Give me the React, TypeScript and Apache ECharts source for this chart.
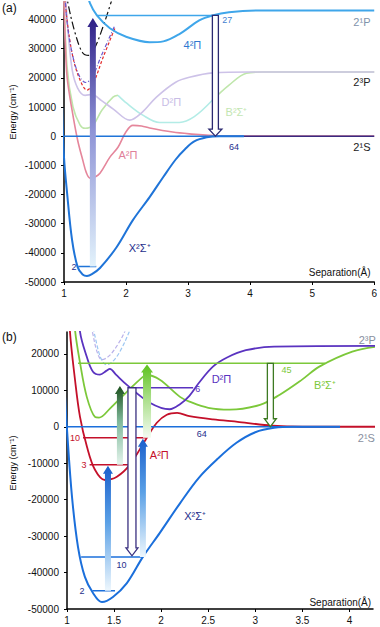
import React, { useEffect, useRef } from "react";
import * as echarts from "echarts";

type P = [number, number];
const FONT = '"Liberation Sans", Arial, sans-serif';

// ---------- Panel (a) ----------
const aX: P[] = [[0.97, 10000], [1.0, -7200], [1.05, -19500], [1.13, -35600], [1.22, -44900], [1.3, -47400], [1.37, -47900], [1.45, -47300], [1.58, -45200], [1.85, -38000], [2.11, -28800], [2.38, -20900], [2.6, -14000], [2.8, -8000], [2.95, -4500], [3.1, -1800], [3.3, -400], [3.5, 0], [3.9, 0]];
const aA: P[] = [[0.99, 52000], [1.02, 33000], [1.05, 20200], [1.13, 8900], [1.22, -1400], [1.3, -8000], [1.36, -12500], [1.42, -14400], [1.5, -14000], [1.58, -12700], [1.74, -7200], [1.87, -3800], [2.0, 1500], [2.11, 3700], [2.25, 3500], [2.38, 2800], [2.75, 1400], [3.02, 800], [3.5, 100], [4, 0], [6, 0]];
const aB1: P[] = [[1.0, 50000], [1.05, 23600], [1.145, 10000], [1.26, 3800], [1.34, 2700], [1.47, 3800], [1.61, 8900], [1.79, 13400], [1.87, 14000]];
const aB2: P[] = [[1.87, 14000], [2.01, 11300], [2.27, 7200], [2.54, 4700], [2.86, 4700], [3.1, 6700], [3.39, 12300]];
const aB3: P[] = [[3.39, 12300], [3.66, 17500], [3.94, 21600], [4.2, 22000], [6, 22000]];
const aD: P[] = [[1.0, 60000], [1.05, 40000], [1.13, 23000], [1.22, 16500], [1.34, 14000], [1.45, 14300], [1.6, 12300], [1.8, 9200], [2.06, 5500], [2.25, 8000], [2.49, 13400], [2.8, 18500], [3.02, 20200], [3.4, 21700], [4, 22000], [6, 22000]];
const aRedDash: P[] = [[1.0, 52000], [1.05, 39700], [1.145, 27000], [1.26, 19200], [1.37, 15800], [1.47, 18100], [1.63, 27000], [1.82, 37000]];
const aPurpleDash: P[] = [[1.0, 55000], [1.04, 41000], [1.13, 28500], [1.25, 20500], [1.35, 18400], [1.45, 20000], [1.6, 27500], [1.82, 38000]];
const aBlackDash: P[] = [[1.04, 50000], [1.06, 46000], [1.18, 35300], [1.3, 28600], [1.4, 27700], [1.5, 30500], [1.62, 37000], [1.76, 46000], [1.8, 49000]];
const a4Pi: P[] = [[1.38, 49000], [1.42, 45500], [1.53, 41400], [1.74, 37000], [2.01, 34000], [2.38, 32200], [2.6, 32500], [2.86, 35000], [3.18, 39700], [3.39, 41400], [3.66, 42500], [4.2, 43100], [6, 43100]];
const aLevel27: P[] = [[1.53, 41400], [3.39, 41400]];
const aLevel64: P[] = [[1.0, 0], [3.9, 0]];
const aAsym: P[] = [[3.9, 0], [6, 0]];
const aLevel2: P[] = [[1.23, -44700], [1.52, -44700]];

const aArrows = [
  { r: 1.465, from: -44700, to: 40500, kind: "violet" },
  { r: 3.44, from: 41400, to: 0, kind: "hollowNavyA" },
];

const aLabels = [
  { t: "4²Π", r: 3.07, e: 31200, k: "a4pi", al: "center" },
  { t: "27", r: 3.55, e: 39700, k: "aNum", al: "left" },
  { t: "2¹P", r: 5.94, e: 39000, k: "a21p", al: "right" },
  { t: "2³P", r: 5.94, e: 18500, k: "dark", al: "right" },
  { t: "B²Σ⁺", r: 3.78, e: 8200, k: "aB", al: "center" },
  { t: "D²Π", r: 2.73, e: 11600, k: "aD", al: "center" },
  { t: "A²Π", r: 2.03, e: -6500, k: "aA", al: "center" },
  { t: "64", r: 3.74, e: -3800, k: "navyNum", al: "center" },
  { t: "2¹S", r: 5.94, e: -3800, k: "dark", al: "right" },
  { t: "X²Σ⁺", r: 2.22, e: -38400, k: "navy", al: "center" },
  { t: "2", r: 1.16, e: -44900, k: "navyNum", al: "center" },
  { t: "Separation(Å)", r: 5.94, e: -46900, k: "axis", al: "right" },
];

// ---------- Panel (b) ----------
const bX: P[] = [[0.98, 8000], [1.0, -800], [1.053, -19200], [1.117, -33000], [1.19, -41200], [1.276, -45600], [1.371, -48100], [1.488, -46700], [1.636, -42900], [1.806, -35700], [1.986, -29100], [2.2, -21000], [2.4, -14000], [2.6, -8800], [2.8, -4400], [3.0, -1500], [3.2, -300], [3.4, 0], [3.9, 0]];
const bA: P[] = [[1.0, 45000], [1.03, 26600], [1.085, 12900], [1.138, 2700], [1.212, -5500], [1.297, -11800], [1.403, -14600], [1.53, -13700], [1.668, -10400], [1.848, -3000], [1.954, 1100], [2.06, 3300], [2.17, 3800], [2.3, 2900], [2.55, 2000], [2.83, 1300], [3.18, 300], [3.5, 0], [4.3, 0]];
const bB: P[] = [[1.05, 40000], [1.085, 26600], [1.138, 17600], [1.21, 8200], [1.297, 2700], [1.34, 2500], [1.456, 5000], [1.636, 9600], [1.806, 13700], [1.85, 14200], [1.986, 12900], [2.2, 8200], [2.3, 6900], [2.5, 5200], [2.73, 4700], [3.05, 6000], [3.26, 8800], [3.5, 13000], [3.68, 16500], [4.03, 20600], [4.3, 22000]];
const bD: P[] = [[1.1, 40000], [1.138, 26100], [1.21, 19200], [1.276, 15100], [1.35, 14300], [1.42, 15400], [1.456, 15900], [1.52, 14300], [1.636, 11500], [1.88, 6600], [2.09, 4800], [2.2, 6200], [2.3, 8500], [2.4, 12000], [2.55, 16500], [2.7, 19000], [2.9, 21000], [3.2, 22000], [4.3, 22200]];
const bLavDash: P[] = [[1.2, 34000], [1.27, 26000], [1.32, 20500], [1.37, 18400], [1.45, 19500], [1.55, 23000], [1.62, 26500], [1.7, 32000]];
const bBlueDash: P[] = [[1.24, 32000], [1.3, 24500], [1.36, 18800], [1.42, 17000], [1.5, 18300], [1.58, 21500], [1.66, 26000], [1.72, 30000]];
const bLevel45: P[] = [[1.117, 17400], [3.74, 17400]];
const bLevel6: P[] = [[1.65, 10700], [2.34, 10700]];
const bLevel64: P[] = [[1.0, 0], [3.9, 0]];
const bRed10: P[] = [[1.17, -3000], [1.85, -3000]];
const bRed3: P[] = [[1.24, -10400], [1.67, -10400]];
const bBlue10: P[] = [[1.15, -35700], [1.81, -35700]];
const bBlue2: P[] = [[1.27, -45000], [1.51, -45000]];

const bArrows = [
  { r: 1.435, from: -45000, to: -10700, kind: "blue" },
  { r: 1.806, from: -35700, to: -3300, kind: "blue" },
  { r: 1.562, from: -10400, to: 11200, kind: "darkGreen" },
  { r: 1.85, from: -3000, to: 17100, kind: "lightGreen" },
  { r: 1.69, from: 10700, to: -35400, kind: "hollowNavyB" },
  { r: 3.16, from: 17400, to: 0, kind: "hollowGreen" },
];

const bLabels = [
  { t: "D²Π", r: 2.64, e: 13200, k: "bD", al: "center" },
  { t: "B²Σ⁺", r: 3.74, e: 11500, k: "bB", al: "center" },
  { t: "2³P", r: 4.28, e: 23900, k: "gray", al: "right" },
  { t: "2¹S", r: 4.27, e: -3000, k: "gray", al: "right" },
  { t: "64", r: 2.43, e: -1900, k: "navyNum", al: "center" },
  { t: "45", r: 3.33, e: 15700, k: "bBNum", al: "center" },
  { t: "6", r: 2.39, e: 10400, k: "bDNum", al: "center" },
  { t: "A²Π", r: 1.98, e: -7700, k: "bA", al: "center" },
  { t: "X²Σ⁺", r: 2.36, e: -24500, k: "navy", al: "center" },
  { t: "10", r: 1.58, e: -37900, k: "navyNum", al: "center" },
  { t: "2", r: 1.16, e: -45100, k: "navyNum", al: "center" },
  { t: "10", r: 1.085, e: -3000, k: "bANum", al: "center" },
  { t: "3", r: 1.18, e: -10400, k: "bANum", al: "center" },
  { t: "Separation(Å)", r: 4.23, e: -48100, k: "axis", al: "right" },
];

const LABEL_STYLE: Record<string, { c: string; s: number }> = {
  a4pi: { c: "#2f78d0", s: 11 },
  aNum: { c: "#3f7fd0", s: 9 },
  a21p: { c: "#7f93ab", s: 11 },
  dark: { c: "#222", s: 11 },
  aB: { c: "#c3e6b2", s: 11 },
  aD: { c: "#c8bde6", s: 11 },
  aA: { c: "#e0809a", s: 11 },
  navyNum: { c: "#1e2e8c", s: 9 },
  navy: { c: "#1e2e8c", s: 11 },
  axis: { c: "#111", s: 10 },
  bD: { c: "#5a33c0", s: 11 },
  bB: { c: "#7cc83a", s: 11 },
  gray: { c: "#8890a0", s: 11 },
  bBNum: { c: "#7cc83a", s: 9 },
  bDNum: { c: "#5a33c0", s: 9 },
  bA: { c: "#c4102a", s: 11 },
  bANum: { c: "#c4102a", s: 9 },
};

const ARROW_STYLE: Record<string, any> = {
  violet: { body: 6, headW: 11, head: 9, tip: "#2e1f86", tail: "#e2f2fb", mid: "#8e93d6" },
  blue: { body: 6, headW: 10, head: 8, tip: "#1a5fcc", tail: "#eef7fd", mid: "#5aa0e6" },
  darkGreen: { body: 6, headW: 10, head: 8, tip: "#1b4f1c", tail: "#e4f4ec", mid: "#7fb89a" },
  lightGreen: { body: 8, headW: 12, head: 8, tip: "#5cc21c", tail: "#f4fbf2", mid: "#a8de86" },
  hollowNavyA: { hollow: true, body: 6, headW: 13, head: 7, stroke: "#2a2870" },
  hollowNavyB: { hollow: true, body: 8, headW: 12, head: 8, stroke: "#3a3080" },
  hollowGreen: { hollow: true, body: 6, headW: 12, head: 8, stroke: "#3d7a22" },
};

function line(data: P[], grid: number, color: string, width: number, z = 2, type: any = "solid", smooth: number | boolean = 0.35) {
  return {
    type: "line",
    xAxisIndex: grid,
    yAxisIndex: grid,
    data,
    smooth,
    symbol: "none",
    showSymbol: false,
    clip: true,
    z,
    silent: true,
    lineStyle: { color, width, type },
  };
}

function arrowSeries(list: any[], grid: number) {
  return {
    type: "custom",
    xAxisIndex: grid,
    yAxisIndex: grid,
    z: 10,
    silent: true,
    data: list.map((a) => [a.r, a.from, a.to]),
    renderItem: (params: any, api: any) => {
      const a = list[params.dataIndex];
      const st = ARROW_STYLE[a.kind];
      const p0 = api.coord([a.r, a.from]);
      const p1 = api.coord([a.r, a.to]);
      const x = p0[0];
      const dir = p1[1] < p0[1] ? -1 : 1;
      const tipY = p1[1];
      const baseY = tipY - dir * st.head;
      const bw = st.body / 2;
      const hw = st.headW / 2;
      const pts = [
        [x - bw, p0[1]],
        [x - bw, baseY],
        [x - hw, baseY],
        [x, tipY],
        [x + hw, baseY],
        [x + bw, baseY],
        [x + bw, p0[1]],
      ];
      const style = st.hollow
        ? { fill: "#ffffff", stroke: st.stroke, lineWidth: 1.3 }
        : {
            fill: new echarts.graphic.LinearGradient(0, 0, 0, 1, [
              { offset: 0, color: st.tip },
              { offset: 0.45, color: st.mid },
              { offset: 1, color: st.tail },
            ]),
            stroke: "none",
          };
      return { type: "polygon", shape: { points: pts }, style };
    },
  };
}

function labelSeries(list: any[], grid: number) {
  return {
    type: "custom",
    xAxisIndex: grid,
    yAxisIndex: grid,
    z: 12,
    silent: true,
    data: list.map((l) => [l.r, l.e]),
    renderItem: (params: any, api: any) => {
      const l = list[params.dataIndex];
      const st = LABEL_STYLE[l.k];
      const p = api.coord([l.r, l.e]);
      return {
        type: "text",
        x: p[0],
        y: p[1],
        style: {
          text: l.t,
          fill: st.c,
          font: `${st.s}px ${FONT}`,
          align: l.al,
          verticalAlign: "middle",
        },
      };
    },
  };
}

function xAxisCfg(grid: number, max: number, interval: number) {
  return {
    type: "value",
    gridIndex: grid,
    min: 1,
    max,
    interval,
    axisLine: { show: true, onZero: false, lineStyle: { color: "#000", width: 1.5 } },
    axisTick: { show: true, length: 3, lineStyle: { color: "#000" } },
    axisLabel: { color: "#111", fontSize: 10, margin: 6, fontFamily: FONT, showMaxLabel: max === 6, formatter: (v: number) => String(v) },
    splitLine: { show: false },
  };
}

function yAxisCfg(grid: number, max: number) {
  return {
    type: "value",
    gridIndex: grid,
    min: -50000,
    max,
    interval: 10000,
    axisLine: { show: true, onZero: false, lineStyle: { color: "#000", width: 1.5 } },
    axisTick: { show: true, length: 3, lineStyle: { color: "#000" } },
    axisLabel: { color: "#111", fontSize: 10, margin: 8, fontFamily: FONT, showMaxLabel: false, formatter: (v: number) => String(v) },
    splitLine: { show: false },
  };
}

export default function App() {
  const ref = useRef<HTMLDivElement>(null);
  useEffect(() => {
    document.body.style.margin = "0";
    const chart = echarts.init(ref.current!, undefined, { renderer: "svg" });
    const option: any = {
      animation: false,
      backgroundColor: "#ffffff",
      grid: [
        { left: 64, top: 2, width: 312, height: 280 },
        { left: 67, top: 332, width: 306, height: 277 },
      ],
      xAxis: [xAxisCfg(0, 6, 1), xAxisCfg(1, 4.25, 0.5)],
      yAxis: [yAxisCfg(0, 46000), yAxisCfg(1, 26000)],
      graphic: [
        { type: "text", x: 2, y: 8, style: { text: "(a)", fill: "#111", font: `12px ${FONT}`, verticalAlign: "middle" } },
        { type: "text", x: 2, y: 337, style: { text: "(b)", fill: "#111", font: `12px ${FONT}`, verticalAlign: "middle" } },
        { type: "text", x: 13, y: 112, rotation: Math.PI / 2, style: { text: "Energy (cm⁻¹)", fill: "#111", font: `9px ${FONT}`, align: "center", verticalAlign: "middle" } },
        { type: "text", x: 13, y: 463, rotation: Math.PI / 2, style: { text: "Energy (cm⁻¹)", fill: "#111", font: `9px ${FONT}`, align: "center", verticalAlign: "middle" } },
      ],
      series: [
        // panel a
        line(aB1, 0, "#bfe6ab", 1.6, 2),
        line(aB2, 0, "#b3ece6", 1.6, 2),
        line(aB3, 0, "#bfe6ab", 1.6, 2),
        line(aD, 0, "#cdc2e8", 1.6, 2),
        line(aA, 0, "#e5869b", 1.6, 3),
        line(aRedDash, 0, "#e32b2b", 1.2, 4, [3, 2]),
        line(aPurpleDash, 0, "#6b5bd0", 1.2, 4, [4, 2, 1, 2]),
        line(aBlackDash, 0, "#111111", 1.2, 4, [8, 3, 2, 3]),
        line(a4Pi, 0, "#3fa6ea", 2, 4),
        line(aAsym, 0, "#3a2a80", 1.5, 3, "solid", false),
        line(aLevel64, 0, "#1f74d8", 1.5, 5, "solid", false),
        line(aLevel27, 0, "#3fa6ea", 1.5, 5, "solid", false),
        line(aLevel2, 0, "#1f74d8", 1.5, 5, "solid", false),
        line(aX, 0, "#1f74d8", 2, 5),
        arrowSeries(aArrows, 0),
        labelSeries(aLabels, 0),
        // panel b
        line(bLavDash, 1, "#b9b1ea", 1.2, 2, [4, 2]),
        line(bBlueDash, 1, "#9cc6f2", 1.2, 2, [4, 2]),
        line(bB, 1, "#7cc83a", 1.8, 3),
        line(bD, 1, "#5a33c0", 1.8, 3),
        line(bA, 1, "#c4102a", 1.8, 3),
        line(bLevel45, 1, "#7cc83a", 1.5, 4, "solid", false),
        line(bLevel6, 1, "#5a33c0", 1.5, 4, "solid", false),
        line(bLevel64, 1, "#1b6fdb", 1.5, 5, "solid", false),
        line(bRed10, 1, "#c4102a", 1.5, 4, "solid", false),
        line(bRed3, 1, "#c4102a", 1.5, 4, "solid", false),
        line(bBlue10, 1, "#1b6fdb", 1.5, 4, "solid", false),
        line(bBlue2, 1, "#1b6fdb", 1.5, 4, "solid", false),
        line(bX, 1, "#1b6fdb", 2, 5),
        arrowSeries(bArrows, 1),
        labelSeries(bLabels, 1),
      ],
    };
    chart.setOption(option);
    return () => chart.dispose();
  }, []);
  return <div ref={ref} style={{ position: "absolute", left: 0, top: 0, width: 380, height: 627 }} />;
}
